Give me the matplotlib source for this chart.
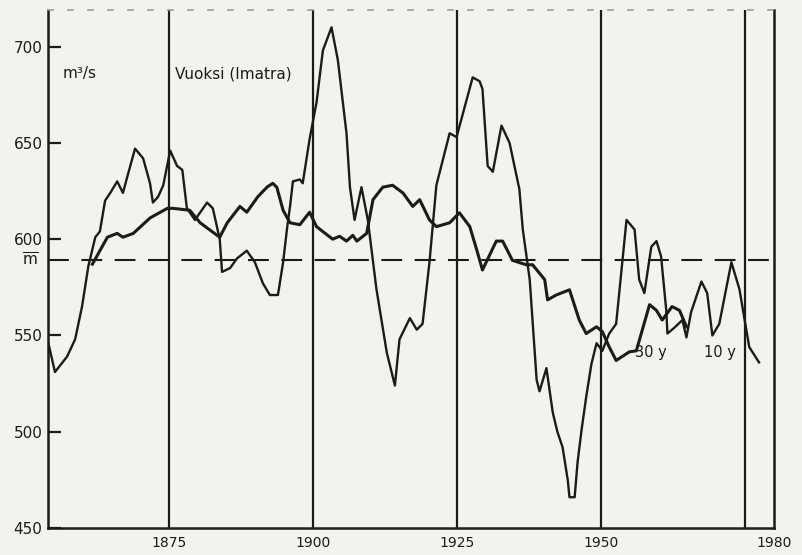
import matplotlib
matplotlib.use("Agg")
import matplotlib.pyplot as plt

# Vuoksi at Imatra: moving averages of discharge (m3/s)
years_10y = [1853.9, 1855.2, 1857.3, 1858.7, 1859.9, 1861.0, 1862.2, 1863.0, 1863.9, 1864.8,
             1866.0, 1867.0, 1867.9, 1869.1, 1870.5, 1871.7, 1872.2, 1873.1, 1874.0, 1875.2,
             1876.4, 1877.3, 1878.1, 1879.5, 1881.6, 1882.6, 1883.8, 1884.2, 1885.6, 1886.8,
             1888.5, 1889.9, 1891.3, 1892.5, 1893.9, 1894.8, 1895.5, 1896.0, 1896.5, 1897.7,
             1898.2, 1899.4, 1900.6, 1901.7, 1903.2, 1904.3, 1905.8, 1906.4, 1907.2, 1908.4,
             1909.5, 1911.0, 1912.8, 1914.2, 1915.0, 1916.8, 1918.0, 1919.0, 1920.2, 1921.4,
             1923.7, 1924.9, 1927.7, 1928.9, 1929.4, 1930.3, 1931.2, 1932.7, 1934.1, 1935.8,
             1936.4, 1937.6, 1938.8, 1939.3, 1940.5, 1941.6, 1942.4, 1943.3, 1944.2, 1944.5,
             1945.4, 1945.9, 1946.6, 1947.4, 1948.3, 1949.2, 1950.2, 1951.4, 1952.6, 1954.4,
             1955.8, 1956.6, 1957.5, 1958.7, 1959.6, 1960.4, 1961.3, 1961.5, 1962.7, 1964.1,
             1964.8, 1965.6, 1967.4, 1968.4, 1969.3, 1970.5, 1972.6, 1974.0, 1975.7, 1977.4]
flow_10y = [548, 531, 539, 548, 565, 586, 601, 604, 620, 624,
            630, 624, 634, 647, 642, 629, 619, 622, 628, 646,
            638, 636, 616, 610, 619, 616, 600, 583, 585, 590,
            594, 588, 577, 571, 571, 588, 606, 617, 630, 631,
            629, 652, 671, 698, 710, 693, 655, 627, 610, 627,
            610, 574, 541, 524, 548, 559, 553, 556, 588, 628,
            655, 653, 684, 682, 678, 638, 635, 659, 650, 626,
            605, 579, 527, 521, 533, 510, 500, 492, 475, 466,
            466, 484, 501, 518, 535, 546, 542, 551, 556, 610,
            605, 579, 572, 596, 599, 591, 563, 551, 554, 558,
            549, 562, 578, 572, 550, 556, 588, 574, 544, 536]

years_30y = [1861.7, 1864.3, 1866.0, 1867.0, 1868.8, 1871.7, 1874.7, 1875.7, 1878.6, 1880.4,
             1883.8, 1885.1, 1887.3, 1888.5, 1890.4, 1892.0, 1893.0, 1893.7, 1894.8, 1896.0,
             1897.7, 1899.4, 1900.6, 1903.4, 1904.6, 1905.8, 1906.9, 1907.6, 1909.3, 1910.4,
             1912.1, 1913.8, 1915.6, 1917.3, 1918.5, 1920.2, 1921.4, 1923.7, 1925.4, 1927.2,
             1928.4, 1929.4, 1931.8, 1932.9, 1934.6, 1937.0, 1938.1, 1940.2, 1940.7, 1942.2,
             1944.5, 1946.2, 1947.4, 1949.2, 1950.2, 1951.4, 1952.6, 1954.9, 1956.1, 1958.4,
             1959.6, 1960.6, 1962.3, 1963.6, 1964.8]
flow_30y = [587, 601, 603, 601, 603, 611, 616, 616, 615, 608.5,
            601, 608.5, 617, 614, 622, 627, 629, 627, 615, 608.5,
            607.5, 614, 606.5, 600, 601.5, 599, 602, 599, 603, 620.5,
            627, 628, 624, 617, 620.5, 610, 606.5, 608.5, 613.7, 606.5,
            594.5, 584, 599, 599, 589, 586.7, 586.7, 579, 568.5, 571,
            573.7, 558, 551, 554.5, 552, 544, 537, 541.5, 542, 566,
            563, 558, 565, 563, 554.5]

mean_flow = 589
year_lines = [1875, 1900, 1925, 1950, 1975]
x_ticks = [1875, 1900, 1925, 1950, 1980]
y_ticks = [450, 500, 550, 600, 650, 700]

ink = "#1b1b1b"
paper = "#f2f2ef"

plt.rcParams["font.family"] = ["DejaVu Sans"]

fig = plt.figure(figsize=(8.02, 5.55), dpi=100, facecolor=paper)
ax = fig.add_axes([0.0599, 0.0486, 0.9052, 0.9334], facecolor=paper)

ax.set_xlim(1854.0, 1980.0)
ax.set_ylim(450, 719)

for yr in year_lines:
    ax.axvline(yr, color=ink, lw=1.6, zorder=1)

ax.axhline(mean_flow, color=ink, lw=1.5, dashes=(10, 6), zorder=2)

ax.plot(years_10y, flow_10y, color=ink, lw=1.7, solid_joinstyle="round", zorder=3)
ax.plot(years_30y, flow_30y, color=ink, lw=2.2, solid_joinstyle="round", zorder=3)

for side in ("left", "bottom", "right"):
    ax.spines[side].set_color(ink)
    ax.spines[side].set_linewidth(1.8)
ax.spines["top"].set_color("#9a9a9a")
ax.spines["top"].set_linestyle((0, (3, 9)))
ax.spines["top"].set_linewidth(1.2)

ax.set_yticks(y_ticks)
ax.set_yticklabels([str(v) for v in y_ticks], fontsize=11, color=ink)
ax.tick_params(axis="y", direction="in", length=9, width=1.6, color=ink, pad=4)
ax.set_xticks(x_ticks)
ax.set_xticklabels([str(v) for v in x_ticks], fontsize=10, color=ink)
ax.tick_params(axis="x", length=0, pad=6)

ax.text(-0.012, mean_flow, r"$\overline{\mathrm{m}}$", transform=ax.get_yaxis_transform(),
        ha="right", va="center", fontsize=11, color=ink)

ax.text(1856.5, 686, "m³/s", fontsize=11, color=ink, va="center", ha="left")
ax.text(1876.0, 686, "Vuoksi (Imatra)", fontsize=11, color=ink, va="center", ha="left")
ax.text(1955.9, 541, "30 y", fontsize=10.5, color=ink, va="center", ha="left")
ax.text(1967.8, 541, "10 y", fontsize=10.5, color=ink, va="center", ha="left")

fig.savefig("out.png", dpi=100, facecolor=paper)
